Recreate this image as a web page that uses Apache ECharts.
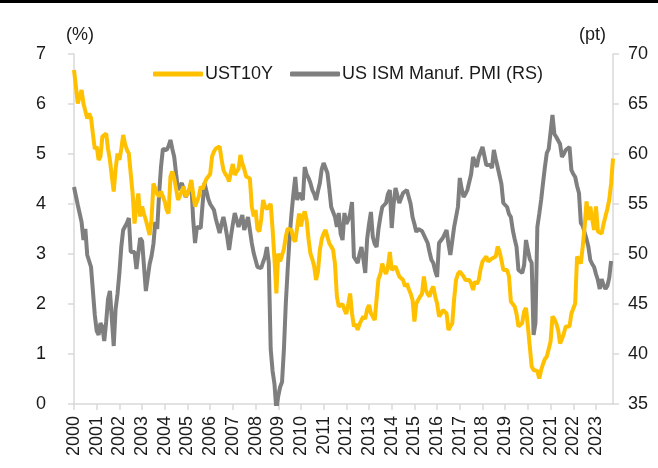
<!DOCTYPE html>
<html>
<head>
<meta charset="utf-8">
<script src="https://cdn.jsdelivr.net/npm/echarts@6/dist/echarts.min.js"></script>
<style>
  html, body { margin: 0; padding: 0; background: #fff; }
  #chart { width: 658px; height: 468px; }
</style>
</head>
<body>
<div id="chart"></div>
<script>
// year tick labels
const years = [2000, 2001, 2002, 2003, 2004, 2005, 2006, 2007, 2008, 2009, 2010, 2011,
  2012, 2013, 2014, 2015, 2016, 2017, 2018, 2019, 2020, 2021, 2022, 2023];

// UST 10Y yield (%), monthly, Jan 2000 - Oct 2023
const ust10y = [
  6.68, 6.35, 6.01, 6.15, 6.28, 6.01, 6.05, 5.71, 5.81, 5.72, 5.40, 5.10, // 2000
  5.15, 4.88, 4.95, 5.35, 5.38, 5.41, 5.10, 4.88, 4.55, 4.25, 4.70, 5.01, // 2001
  4.88, 5.10, 5.38, 5.20, 5.08, 5.01, 4.60, 4.21, 3.61, 3.95, 4.21, 3.75, // 2002
  3.95, 3.80, 3.68, 3.70, 3.38, 3.70, 4.41, 4.45, 4.20, 4.15, 4.25, 4.21, // 2003
  4.05, 3.88, 3.81, 4.55, 4.65, 4.51, 4.30, 4.08, 4.05, 4.25, 4.35, 4.15, // 2004
  4.20, 4.30, 4.48, 4.21, 3.95, 3.91, 4.15, 4.35, 4.30, 4.41, 4.50, 4.55, // 2005
  4.60, 4.95, 5.05, 5.11, 5.13, 5.15, 4.90, 4.68, 4.60, 4.55, 4.45, 4.65, // 2006
  4.80, 4.58, 4.65, 4.70, 4.98, 4.81, 4.70, 4.55, 4.52, 4.51, 3.95, 3.75, // 2007
  3.88, 3.50, 3.45, 3.70, 4.08, 3.95, 3.90, 3.95, 4.00, 3.50, 2.90, 2.21, // 2008
  3.01, 2.85, 2.85, 3.10, 3.35, 3.51, 3.50, 3.48, 3.30, 3.25, 3.21, 3.81, // 2009
  3.55, 3.75, 3.85, 3.68, 3.30, 3.01, 2.90, 2.75, 2.48, 2.65, 3.08, 3.30, // 2010
  3.41, 3.48, 3.45, 3.21, 3.15, 3.08, 2.80, 2.15, 1.95, 1.91, 2.00, 1.88, // 2011
  1.80, 2.00, 2.21, 1.81, 1.55, 1.60, 1.48, 1.60, 1.68, 1.75, 1.70, 1.90, // 2012
  1.98, 1.81, 1.75, 1.68, 2.10, 2.50, 2.60, 2.81, 2.68, 2.60, 2.75, 3.04, // 2013
  2.68, 2.66, 2.75, 2.65, 2.55, 2.52, 2.48, 2.35, 2.41, 2.30, 2.21, 2.08, // 2014
  1.65, 2.01, 2.05, 2.15, 2.20, 2.55, 2.28, 2.20, 2.15, 2.28, 2.35, 2.15, // 2015
  2.01, 1.75, 1.80, 1.88, 1.85, 1.81, 1.48, 1.55, 1.61, 2.10, 2.48, 2.60, // 2016
  2.65, 2.61, 2.55, 2.48, 2.45, 2.48, 2.41, 2.28, 2.45, 2.40, 2.48, 2.70, // 2017
  2.85, 2.88, 2.95, 2.85, 2.88, 2.91, 2.90, 2.95, 3.15, 3.05, 2.88, 2.68, // 2018
  2.70, 2.68, 2.55, 2.05, 2.00, 1.95, 1.80, 1.55, 1.55, 1.62, 1.85, 1.92, // 2019
  1.55, 1.15, 0.75, 0.68, 0.65, 0.66, 0.51, 0.68, 0.80, 0.90, 0.95, 1.10, // 2020
  1.25, 1.75, 1.70, 1.61, 1.48, 1.21, 1.30, 1.41, 1.55, 1.52, 1.55, 1.81, // 2021
  1.85, 2.01, 2.95, 2.98, 2.81, 3.15, 3.55, 4.05, 3.68, 3.95, 3.70, 3.48, // 2022
  3.95, 3.45, 3.42, 3.41, 3.60, 3.75, 3.90, 4.08, 4.41, 4.91              // 2023
];

// US ISM manufacturing PMI (pt), monthly, Jan 2000 - Sep 2023
const ismPmi = [
  56.7, 55.8, 54.9, 54.7, 53.2, 51.4, 52.5, 49.9, 49.7, 48.7, 48.5, 43.9, // 2000
  42.3, 41.9, 43.1, 42.7, 41.3, 43.2, 45.5, 46.3, 46.2, 40.8, 44.5, 46.0, // 2001
  48.1, 50.7, 52.4, 52.4, 53.1, 53.6, 50.2, 50.3, 50.2, 48.5, 48.5, 51.6, // 2002
  51.3, 48.8, 46.3, 46.4, 49.0, 49.8, 51.0, 53.2, 52.5, 56.0, 58.7, 60.5, // 2003
  60.7, 60.4, 60.8, 61.4, 60.5, 59.7, 58.0, 56.4, 56.8, 57.1, 56.5, 55.7, // 2004
  55.7, 56.4, 57.1, 53.5, 51.1, 52.7, 52.6, 52.6, 55.0, 57.1, 57.2, 55.5, // 2005
  55.0, 55.2, 54.4, 53.5, 52.8, 52.1, 53.0, 53.7, 52.8, 51.7, 50.4, 51.8, // 2006
  53.0, 54.1, 53.4, 52.7, 53.3, 53.9, 52.4, 53.0, 53.7, 52.4, 51.1, 50.1, // 2007
  50.1, 48.7, 48.6, 48.6, 49.2, 49.7, 50.7, 49.1, 40.5, 38.3, 37.0, 34.4, // 2008
  35.8, 36.7, 37.2, 40.5, 45.1, 48.5, 51.7, 54.0, 56.0, 57.7, 55.4, 56.1, // 2009
  56.0, 55.4, 58.7, 58.0, 57.6, 57.1, 56.4, 56.0, 55.4, 56.3, 57.1, 58.5, // 2010
  59.1, 59.1, 58.1, 56.5, 54.7, 54.2, 53.7, 52.7, 54.1, 52.0, 51.4, 54.1, // 2011
  53.0, 53.4, 54.0, 55.2, 49.7, 49.5, 49.1, 50.0, 50.7, 49.5, 48.1, 51.5, // 2012
  53.0, 54.2, 51.7, 51.0, 50.7, 52.5, 53.7, 54.7, 54.9, 55.1, 56.0, 56.4, // 2013
  52.6, 55.0, 56.6, 56.6, 55.1, 55.6, 56.1, 56.2, 56.4, 56.3, 55.0, 53.7, // 2014
  53.0, 52.2, 52.5, 52.7, 52.3, 51.9, 51.5, 51.1, 50.2, 49.4, 49.1, 48.3, // 2015
  47.7, 51.1, 51.3, 51.6, 52.0, 52.4, 51.0, 49.9, 51.3, 52.7, 53.7, 54.7, // 2016
  57.6, 56.5, 55.7, 56.0, 56.4, 56.4, 58.0, 59.7, 59.2, 58.7, 59.7, 60.2, // 2017
  60.7, 59.8, 58.9, 58.9, 58.9, 58.6, 60.4, 59.5, 58.7, 58.6, 57.0, 55.1, // 2018
  55.0, 54.7, 54.0, 53.7, 52.4, 51.5, 50.7, 48.4, 48.3, 48.1, 48.9, 51.4, // 2019
  50.4, 49.5, 49.1, 41.9, 43.1, 52.7, 54.0, 55.4, 57.1, 58.7, 60.1, 60.5, // 2020
  60.7, 63.9, 62.0, 61.7, 61.6, 61.0, 59.7, 60.0, 60.4, 60.5, 60.7, 58.4, // 2021
  58.0, 57.7, 56.8, 56.1, 53.1, 52.8, 52.7, 51.5, 50.7, 49.4, 49.0, 48.7, // 2022
  48.0, 47.4, 46.5, 47.5, 46.9, 46.5, 46.8, 47.6, 49.3                    // 2023
];

// monthly categories, one per UST value
const months = [];
years.forEach((y) => {
  for (let m = 1; m <= 12; m++) months.push(y + '-' + String(m).padStart(2, '0'));
});
months.length = ust10y.length;

const FONT = '"Liberation Sans", Arial, sans-serif';
const AXIS_GREY = '#d9d9d9';
const YELLOW = '#ffc000';
const GREY = '#7f7f7f';

const chart = echarts.init(document.getElementById('chart'));

// only January gets a tick and a year label
const isJan = (idx) => idx % 12 === 0;

chart.setOption({
  animation: false,
  textStyle: { fontFamily: FONT },
  grid: { left: 74, right: 45, top: 54, bottom: 64 },
  legend: {
    left: 148,
    top: 60,
    itemWidth: 50,
    itemHeight: 5,
    itemGap: 17,
    icon: 'roundRect',
    textStyle: { fontSize: 18, color: '#1a1a1a', fontFamily: FONT, padding: [0, 0, 0, -3] },
    data: ['UST10Y', 'US ISM Manuf. PMI (RS)'],
  },
  graphic: [
    { type: 'rect', left: 0, top: 0, shape: { width: 658, height: 3 }, style: { fill: '#000' } },
    {
      type: 'text', left: 66, top: 26,
      style: { text: '(%)', fontSize: 18, fill: '#1a1a1a', fontFamily: FONT },
    },
    {
      type: 'text', left: 579, top: 26,
      style: { text: '(pt)', fontSize: 18, fill: '#1a1a1a', fontFamily: FONT },
    },
  ],
  xAxis: {
    type: 'category',
    data: months,
    boundaryGap: false,
    axisLine: { lineStyle: { color: AXIS_GREY, width: 1.5 } },
    axisTick: { interval: isJan, length: 6, lineStyle: { color: AXIS_GREY, width: 1.5 } },
    axisLabel: {
      interval: isJan,
      rotate: 90,
      fontSize: 18,
      color: '#1a1a1a',
      margin: 12,
      formatter: (v) => v.slice(0, 4),
    },
    splitLine: { show: false },
  },
  yAxis: [
    {
      type: 'value',
      min: 0,
      max: 7,
      interval: 1,
      axisLine: { show: true, lineStyle: { color: AXIS_GREY, width: 1.5 } },
      axisTick: { show: true, length: 6, lineStyle: { color: AXIS_GREY, width: 1.5 } },
      axisLabel: { fontSize: 18, color: '#1a1a1a', margin: 28 },
      splitLine: { show: false },
    },
    {
      type: 'value',
      min: 35,
      max: 70,
      interval: 5,
      position: 'right',
      axisLine: { show: true, lineStyle: { color: AXIS_GREY, width: 1.5 } },
      axisTick: { show: true, length: 6, lineStyle: { color: AXIS_GREY, width: 1.5 } },
      axisLabel: { fontSize: 18, color: '#1a1a1a', margin: 15 },
      splitLine: { show: false },
    },
  ],
  series: [
    {
      name: 'UST10Y',
      type: 'line',
      yAxisIndex: 0,
      data: ust10y,
      showSymbol: false,
      color: YELLOW,
      lineStyle: { color: YELLOW, width: 4 },
      z: 3,
    },
    {
      name: 'US ISM Manuf. PMI (RS)',
      type: 'line',
      yAxisIndex: 1,
      data: ismPmi,
      showSymbol: false,
      color: GREY,
      lineStyle: { color: GREY, width: 4 },
      z: 2,
    },
  ],
});
</script>
</body>
</html>
